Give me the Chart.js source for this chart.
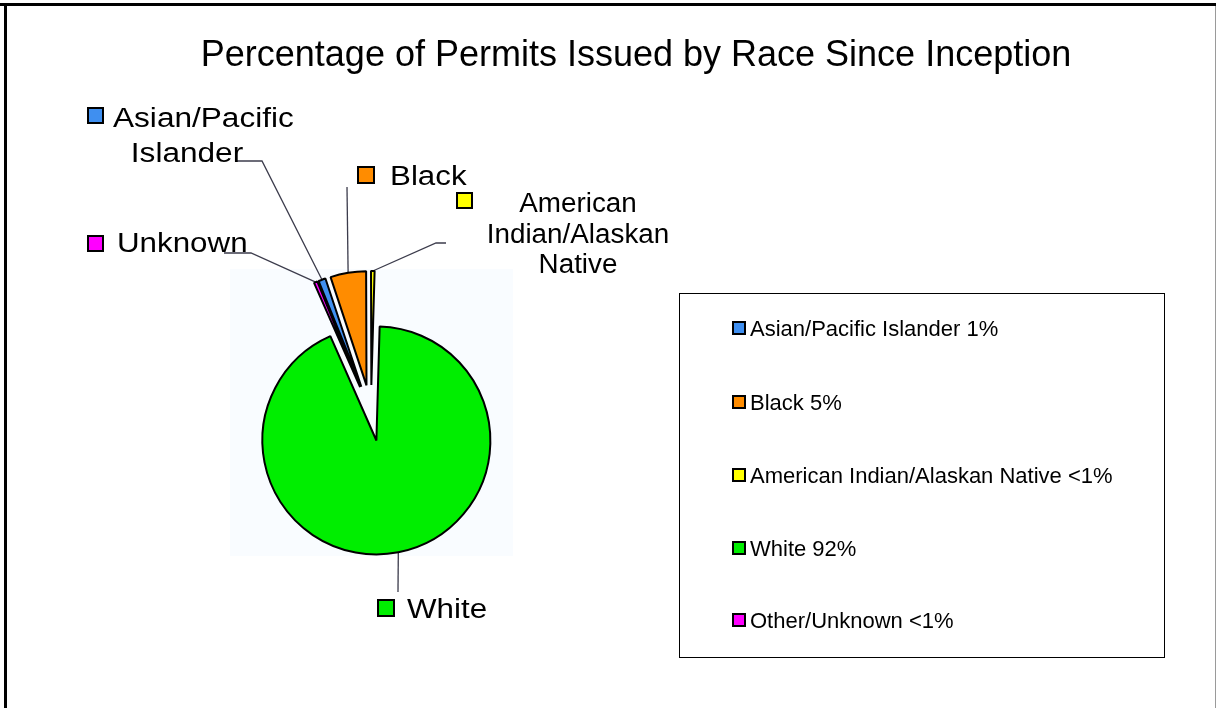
<!DOCTYPE html>
<html>
<head>
<meta charset="utf-8">
<title>Permits by Race</title>
<script src="https://cdn.jsdelivr.net/npm/chart.js@4.4.0/dist/chart.umd.min.js"></script>
<style>
    html, body { margin: 0; padding: 0; background: #fff; }
    canvas { display: block; }
</style>
</head>
<body>
<canvas id="racaChart" width="1217" height="708"></canvas>
<script>
// dados
var categorias = ['Asian/Pacific Islander', 'Black', 'American Indian/Alaskan Native', 'White', 'Other/Unknown'];
var percentuais = [1, 5, 0.5, 92, 0.5];
var textosLegenda = ['1%', '5%', '<1%', '92%', '<1%'];
var rotulosFatia = [['Asian/Pacific', 'Islander'], ['Black'], ['American', 'Indian/Alaskan', 'Native'], ['White'], ['Unknown']];
var cores = ['#3f8ff0', '#ff8c00', '#ffff00', '#00ee00', '#ff00ff'];
var afastamento = [28, 28, 28, 28, 28]; // todas as fatias destacadas (explode)

var titulo = 'Percentage of Permits Issued by Race Since Inception';
var fonte = '"Liberation Sans", Arial, sans-serif';

// posicao dos rotulos de fora (caixa, linhas de texto, linha guia)
var layoutRotulos = [
    { caixa: [88, 108, 15], sx: 1.17, linhas: [[113, 127, 'left'], [187, 162, 'center']], guia: [[236, 161], [262, 161]] },
    { caixa: [358, 167, 16], sx: 1.16, linhas: [[390, 185, 'left']], guia: [[347, 187]] },
    { caixa: [457, 193, 15], sx: 1.03, linhas: [[578, 212, 'center'], [578, 243, 'center'], [578, 273, 'center']], guia: [[446, 243], [436, 243]] },
    { caixa: [378, 600, 16], sx: 1.16, linhas: [[407, 618, 'left']], guia: [[398, 592]] },
    { caixa: [88, 236, 15], sx: 1.16, linhas: [[117, 252, 'left']], guia: [[224, 253], [251, 253]] }
];

function escreve(ctx, txt, x, y, align, tam, sx) {
    ctx.save();
    ctx.font = tam + 'px ' + fonte;
    ctx.textAlign = align;
    ctx.textBaseline = 'alphabetic';
    ctx.translate(x, y);
    ctx.scale(sx, 1);
    ctx.fillText(txt, 0, 0);
    ctx.restore();
}

function quadradinho(ctx, x, y, lado, cor) {
    ctx.fillStyle = cor;
    ctx.fillRect(x, y, lado, lado);
    ctx.strokeStyle = '#000';
    ctx.lineWidth = 2;
    ctx.strokeRect(x, y, lado, lado);
}

var pluginDestaque = {
    id: 'destaque',
    afterDatasetUpdate: function (chart, args) {
        args.meta.data.forEach(function (arc, i) {
            var d = afastamento[i] || 0;
            var meio = (arc.startAngle + arc.endAngle) / 2;
            arc.x += Math.cos(meio) * d;
            arc.y += Math.sin(meio) * d;
        });
    }
};

var pluginDesenho = {
    id: 'desenho',
    beforeDraw: function (chart) {
        var ctx = chart.ctx;
        ctx.save();
        ctx.fillStyle = '#fff';
        ctx.fillRect(0, 0, chart.width, chart.height);

        // fundo da area do grafico
        ctx.fillStyle = '#f9fcff';
        ctx.fillRect(230, 269, 283, 287);

        // moldura
        ctx.fillStyle = '#000';
        ctx.fillRect(0, 3, 1216, 3);
        ctx.fillRect(4, 3, 3, chart.height);
        ctx.fillStyle = '#9a9a9a';
        ctx.fillRect(1215, 6, 1, chart.height);

        ctx.fillStyle = '#000';
        escreve(ctx, titulo, 636, 66, 'center', 36, 1);
        ctx.restore();
    },
    beforeDatasetsDraw: function (chart) {
        var ctx = chart.ctx;
        var arcs = chart.getDatasetMeta(0).data;
        ctx.save();
        ctx.strokeStyle = '#3c3c4c';
        ctx.lineWidth = 1.3;
        layoutRotulos.forEach(function (lay, i) {
            var arc = arcs[i];
            var meio = (arc.startAngle + arc.endAngle) / 2;
            var ax = arc.x + Math.cos(meio) * arc.outerRadius;
            var ay = arc.y + Math.sin(meio) * arc.outerRadius;
            ctx.beginPath();
            ctx.moveTo(lay.guia[0][0], lay.guia[0][1]);
            for (var k = 1; k < lay.guia.length; k++) {
                ctx.lineTo(lay.guia[k][0], lay.guia[k][1]);
            }
            ctx.lineTo(ax, ay);
            ctx.stroke();
        });
        ctx.restore();
    },
    afterDatasetsDraw: function (chart) {
        var ctx = chart.ctx;
        ctx.save();
        // rotulos de fora
        layoutRotulos.forEach(function (lay, i) {
            quadradinho(ctx, lay.caixa[0], lay.caixa[1], lay.caixa[2], cores[i]);
            ctx.fillStyle = '#000';
            rotulosFatia[i].forEach(function (linha, k) {
                var p = lay.linhas[k];
                escreve(ctx, linha, p[0], p[1], p[2], 27, lay.sx);
            });
        });

        // legenda
        ctx.strokeStyle = '#000';
        ctx.lineWidth = 1;
        ctx.strokeRect(679.5, 293.5, 485, 364);
        var yLegenda = [328, 402, 475, 548, 620];
        categorias.forEach(function (cat, i) {
            quadradinho(ctx, 733, yLegenda[i] - 6, 12, cores[i]);
            ctx.fillStyle = '#000';
            escreve(ctx, cat + ' ' + textosLegenda[i], 750, yLegenda[i] + 8, 'left', 22, 1);
        });
        ctx.restore();
    }
};

var ctx = document.getElementById('racaChart').getContext('2d');
var racaChart = new Chart(ctx, {
    type: 'pie',
    data: {
        labels: categorias,
        datasets: [{
            data: percentuais,
            backgroundColor: cores,
            borderColor: '#000',
            borderWidth: 2,
            hoverOffset: 0
        }]
    },
    plugins: [pluginDestaque, pluginDesenho],
    options: {
        responsive: false,
        animation: false,
        events: [],
        rotation: -22,
        radius: 114,
        layout: {
            // centro da pizza em (371, 413) antes do destaque
            padding: { left: 230, right: 705, top: 326, bottom: 208 }
        },
        plugins: {
            legend: { display: false },
            title: { display: false },
            tooltip: { enabled: false }
        }
    }
});
</script>
</body>
</html>
